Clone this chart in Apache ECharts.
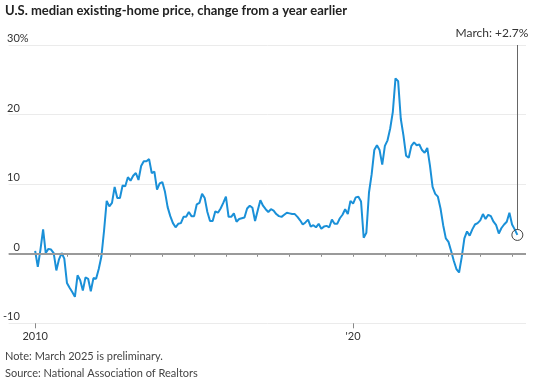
<!DOCTYPE html>
<html>
<head>
<meta charset="utf-8">
<script src="https://cdn.jsdelivr.net/npm/echarts@6/dist/echarts.min.js"></script>
<style>html,body{margin:0;padding:0;background:#fff}#c{width:536px;height:384px}</style>
</head>
<body>
<div id="c"></div>
<script>
// Monthly year-over-year change (%), Jan 2010 .. Mar 2025
const startYear = 2010;
const values = [
  0.4, -1.9, 0.6, 3.5, 0.1, 0.7, 0.6, 0.1, -2.4, -0.8, 0.1, -0.7,
  -4.2, -4.9, -5.5, -6.2, -3.1, -3.8, -5.3, -3.4, -3.6, -5.4, -3.5, -3.6,
  -2.2, -0.4, 3.3, 7.6, 6.8, 7.3, 9.6, 8.0, 8.0, 9.8, 9.7, 11.0,
  10.5, 11.2, 11.6, 10.6, 12.6, 13.3, 13.3, 13.6, 11.6, 11.8, 9.2, 10.1,
  10.3, 8.9, 6.7, 5.4, 4.4, 3.8, 4.3, 4.4, 5.3, 5.3, 6.0, 5.4,
  5.4, 7.1, 7.3, 8.6, 8.0, 6.0, 4.7, 4.7, 6.1, 5.9, 6.5, 7.3,
  8.2, 5.3, 5.3, 5.8, 4.6, 5.0, 5.1, 5.2, 6.5, 6.9, 6.6, 4.7,
  6.2, 7.7, 6.9, 6.4, 6.0, 6.4, 6.2, 5.7, 5.4, 5.3, 5.6, 5.9,
  5.8, 5.7, 5.7, 5.3, 4.8, 4.2, 4.5, 4.9, 3.9, 4.1, 3.8, 4.3,
  3.6, 3.9, 4.0, 3.8, 4.9, 4.3, 4.3, 5.1, 5.6, 6.4, 5.7, 7.6,
  7.2, 8.1, 8.2, 7.5, 2.3, 3.0, 8.8, 11.4, 14.9, 15.6, 14.9, 12.8,
  15.5, 16.3, 18.0, 20.4, 25.2, 24.8, 19.4, 17.0, 14.1, 13.8, 15.5, 16.0,
  15.6, 15.7, 14.9, 14.5, 15.2, 12.7, 9.6, 8.6, 8.2, 6.5, 4.1, 2.2,
  1.7, 0.4, -1.0, -2.2, -2.7, -0.5, 2.2, 3.2, 2.6, 3.5, 4.2, 4.4,
  4.8, 5.7, 5.0, 5.6, 5.4, 4.6, 4.1, 2.9, 3.7, 4.2, 4.6, 5.9,
  4.2, 3.5, 2.7
];
const yTicks = [-10, 0, 10, 20, 30];
const yearTicks = [2010, 2011, 2012, 2013, 2014, 2015, 2016, 2017, 2018, 2019, 2020, 2021, 2022, 2023, 2024, 2025];
const yearLabelYears = [2010, 2020];
const yearLabelTexts = ['2010', "'20"];
const titleText = 'U.S. median existing-home price, change from a year earlier';
const noteText = 'Note: March 2025 is preliminary.';
const sourceText = 'Source: National Association of Realtors';
const lastMonthName = 'March';

const months = values.map((v, i) => {
  const y = startYear + Math.floor(i / 12), m = (i % 12) + 1;
  return y + '-' + (m < 10 ? '0' + m : m);
});
const data = values.map((v, i) => [i, v]);
const lastIdx = values.length - 1;
const lastVal = values[lastIdx];
const tickIdx = yearTicks.map(y => (y - startYear) * 12);
const labelIdx = yearLabelYears.map(y => (y - startYear) * 12);

const FONT = 'Lato';
const chart = echarts.init(document.getElementById('c'));
chart.setOption({
  animation: false,
  backgroundColor: '#fff',
  title: [
    { text: titleText, left: 5, top: 4, padding: 0,
      textStyle: { fontFamily: FONT, fontSize: 13, fontWeight: 'bold', color: '#222' } },
    { text: noteText, left: 5, top: 351, padding: 0,
      textStyle: { fontFamily: FONT, fontSize: 11, fontWeight: 'normal', color: '#444' } },
    { text: sourceText, left: 5, top: 368, padding: 0,
      textStyle: { fontFamily: FONT, fontSize: 11, fontWeight: 'normal', color: '#444' } }
  ],
  grid: { left: 5, right: 10, top: 45, bottom: 60.7, containLabel: false },
  xAxis: [
    {
      type: 'value', position: 'bottom', min: -10.0, max: 185.26,
      axisLine: { show: false },
      splitLine: { show: false },
      axisTick: { show: true, customValues: tickIdx, length: 3, lineStyle: { color: '#888', width: 1 } },
      axisLabel: {
        show: true, customValues: labelIdx, margin: 8,
        fontFamily: FONT, fontSize: 11, color: '#333',
        formatter: v => yearLabelTexts[labelIdx.indexOf(v)] || ''
      }
    },
    {
      type: 'value', position: 'bottom', min: -10.0, max: 185.26,
      axisLine: { show: false }, splitLine: { show: false },
      axisTick: { show: true, customValues: labelIdx, length: 5, lineStyle: { color: '#888', width: 1 } },
      axisLabel: { show: false }
    }
  ],
  yAxis: {
    type: 'value', min: -10, max: 30, interval: 10,
    axisLine: { show: false }, axisTick: { show: false },
    splitLine: { show: true, lineStyle: { color: '#ebebeb', width: 1 } },
    axisLabel: {
      margin: -20, align: 'right', verticalAlign: 'bottom', padding: [0, 0, 1, 0],
      fontFamily: FONT, fontSize: 11, color: '#333',
      formatter: v => v === yTicks[yTicks.length - 1] ? v + '%' : v + '{h|%}',
      rich: { h: { color: 'rgba(0,0,0,0)', fontFamily: FONT, fontSize: 11 } }
    }
  },
  series: [{
    type: 'line',
    data: data,
    showSymbol: false,
    symbol: 'none',
    lineStyle: { color: '#1a90d8', width: 2 },
    z: 3,
    markLine: {
      silent: true, symbol: 'none', animation: false,
      label: { show: false },
      data: [
        { yAxis: 0, lineStyle: { color: '#9a9a9a', width: 2, type: 'solid' } },
        [ { coord: [lastIdx, lastVal + 0.75], lineStyle: { color: '#666', width: 1, type: 'solid' } },
          { coord: [lastIdx, yTicks[yTicks.length - 1]] } ]
      ]
    },
    markPoint: {
      silent: true, animation: false,
      data: [
        { coord: [lastIdx, lastVal], symbol: 'circle', symbolSize: 11,
          itemStyle: { color: 'rgba(255,255,255,0)', borderColor: '#444', borderWidth: 1 },
          label: { show: false } },
        { coord: [lastIdx, yTicks[yTicks.length - 1]], symbol: 'circle', symbolSize: 0,
          itemStyle: { color: 'rgba(0,0,0,0)' },
          label: { show: true, position: 'top', distance: 6, align: 'right', offset: [11, 0],
            fontFamily: FONT, fontSize: 12, color: '#333',
            formatter: lastMonthName + ': +' + lastVal + '%' } }
      ]
    }
  }]
});
</script>
</body>
</html>
